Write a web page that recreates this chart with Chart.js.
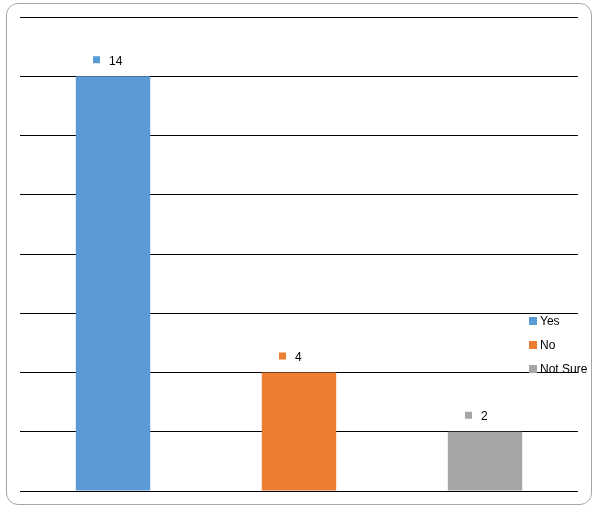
<!DOCTYPE html>
<html>
<head>
<meta charset="utf-8">
<script src="https://cdn.jsdelivr.net/npm/chart.js@4"></script>
<style>
  html, body { margin: 0; padding: 0; background: #fff; }
  #wrap { position: relative; width: 593px; height: 508px; }
  #chart { display: block; }
  #frame {
    position: absolute; left: 6px; top: 3px; width: 584px; height: 500px;
    border: 1px solid #a6a6a6; border-radius: 12px; pointer-events: none;
  }
</style>
</head>
<body>
<div id="wrap">
  <canvas id="chart" width="593" height="508"></canvas>
  <div id="frame"></div>
</div>
<script>
const categories = ["Yes", "No", "Not Sure"];
const answers = [14, 4, 2];
const barColors = ["#5B9BD5", "#ED7D31", "#A5A5A5"];
const yTicks = [0, 2, 4, 6, 8, 10, 12, 14, 16];

const FONT = "12px 'Liberation Sans', Arial, sans-serif";

// value labels with a little colour key in front, like the office chart
const valueLabels = {
  id: "valueLabels",
  afterDatasetsDraw(chart) {
    const ctx = chart.ctx;
    const meta = chart.getDatasetMeta(0);
    ctx.save();
    ctx.font = FONT;
    ctx.textBaseline = "middle";
    ctx.textAlign = "left";
    meta.data.forEach((bar, i) => {
      const y = bar.y - 16;
      ctx.fillStyle = barColors[i];
      ctx.fillRect(bar.x - 20, y - 4, 7, 7);
      ctx.fillStyle = "#000";
      ctx.fillText(String(answers[i]), bar.x - 4, y + 1);
    });
    ctx.restore();
  }
};

const sideLegend = {
  id: "sideLegend",
  afterDraw(chart) {
    const ctx = chart.ctx;
    const x = 529, y0 = 321;
    ctx.save();
    ctx.font = FONT;
    ctx.textBaseline = "middle";
    categories.forEach((name, i) => {
      const y = y0 + i * 24;
      ctx.fillStyle = barColors[i];
      ctx.fillRect(x, y - 4, 8, 8);
      ctx.fillStyle = "#000";
      ctx.fillText(name, x + 11, y + 1);
    });
    ctx.restore();
  }
};

new Chart(document.getElementById("chart"), {
  type: "bar",
  data: {
    labels: categories,
    datasets: [{
      data: answers,
      backgroundColor: barColors,
      borderWidth: 0,
      barPercentage: 0.4,
      categoryPercentage: 1
    }]
  },
  options: {
    responsive: false,
    animation: false,
    layout: { padding: { left: 20, right: 15, top: 17, bottom: 17 } },
    plugins: { legend: { display: false }, tooltip: { enabled: false } },
    scales: {
      x: { display: false },
      y: {
        min: 0,
        max: 16,
        afterBuildTicks(scale) { scale.ticks = yTicks.map(v => ({ value: v })); },
        grid: { color: "#000", lineWidth: 1, drawTicks: false },
        border: { display: false },
        ticks: { display: false }
      }
    }
  },
  plugins: [valueLabels, sideLegend]
});
</script>
</body>
</html>
